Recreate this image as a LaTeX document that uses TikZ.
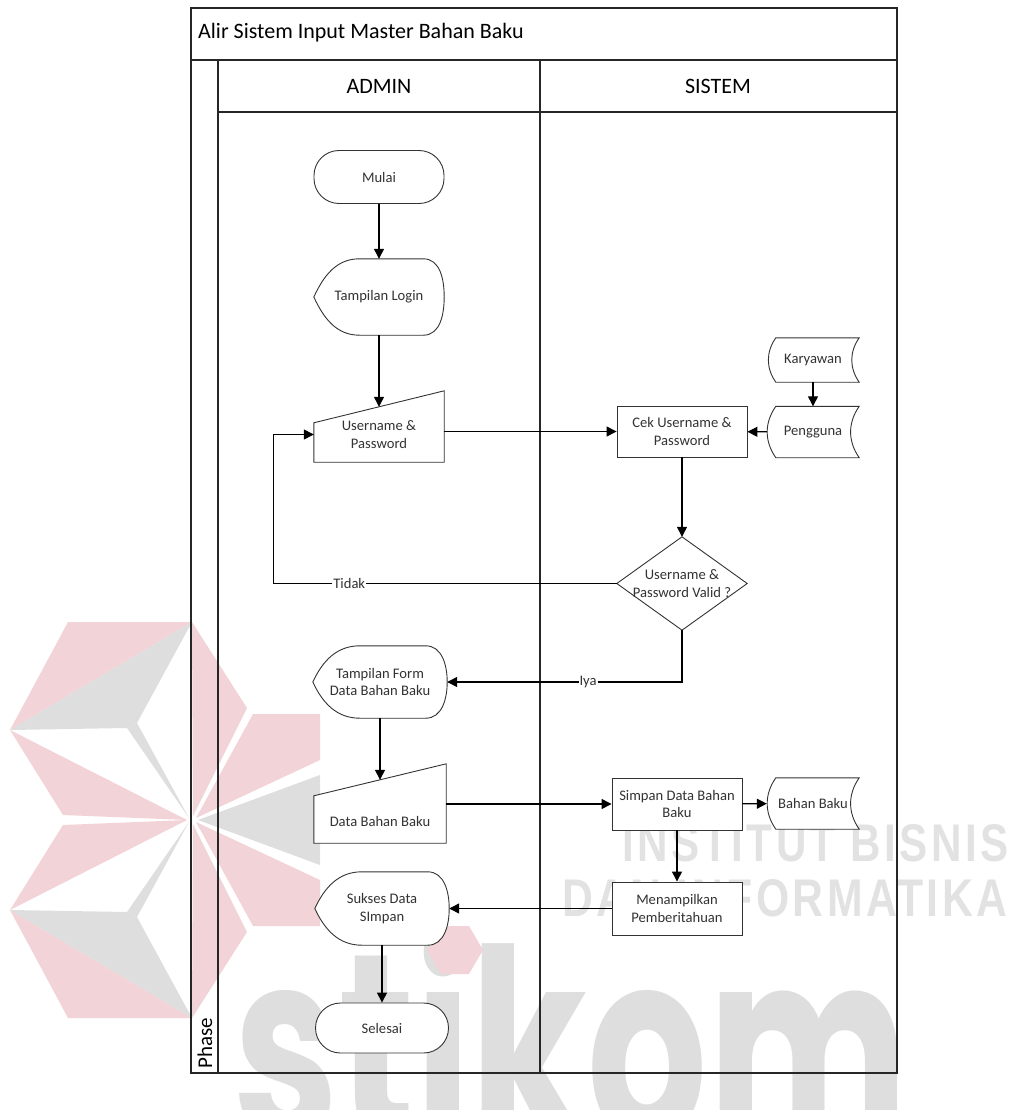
\documentclass[tikz,border=0pt]{standalone}
\usepackage{graphicx}
\usepackage{fontspec}
\setmainfont{Carlito}
\newfontfamily\wmfont{Poppins}
\newfontfamily\wmsans{Liberation Sans}[LetterSpace=8]
\usepackage{tikz}
\usetikzlibrary{calc}
\usetikzlibrary{arrows.meta}
\definecolor{wmpink}{HTML}{F2D3D8}
\definecolor{wmgray}{HTML}{DEDEDE}
\definecolor{wmtext}{HTML}{E2E2E2}
\definecolor{inkgray}{HTML}{333333}
\pgfdeclarelayer{watermark}
\pgfdeclarelayer{outline}
\pgfsetlayers{watermark,outline,main}
\newcommand{\nodefont}{\fontsize{14.6}{17.7}\selectfont}
\newcommand{\headfont}{\fontsize{22}{26}\selectfont}
\tikzset{
    shapeline/.style={draw=inkgray, line width=0.9pt, fill=white},
    frame/.style={draw=black!85, line width=1.3pt},
    flowbox/.style={text=inkgray, font=\nodefont, align=center, inner sep=2pt},
    process/.style={flowbox, shapeline, minimum width=130pt, minimum height=52pt},
    terminal/.style={flowbox, shapeline, rounded corners=25pt, minimum width=130pt, minimum height=51pt},
    display/.style={flowbox, minimum width=134pt, minimum height=74pt},
    manual/.style={flowbox, minimum width=130pt, minimum height=55pt},
    stored/.style={flowbox, minimum width=92pt, minimum height=51pt},
    decision/.style={flowbox, minimum width=130pt, minimum height=93pt},
    flow/.style={draw=black, line width=1.3pt, -{Triangle[length=10pt,width=10pt]}},
    edgelabel/.style={fill=white, text=inkgray, font=\nodefont, inner sep=1pt}
}
\newcommand{\displayshape}[1]{%
    \begin{pgfonlayer}{outline}
    \path[shapeline] (#1.west) to[out=65,in=180] ($(#1.north west)!0.35!(#1.north east)$) -- ($(#1.north west)!0.84!(#1.north east)$) to[out=0,in=90] (#1.east) to[out=-90,in=0] ($(#1.south west)!0.84!(#1.south east)$) -- ($(#1.south west)!0.35!(#1.south east)$) to[out=180,in=-65] (#1.west) -- cycle;
    \end{pgfonlayer}}
\newcommand{\manualshape}[1]{%
    \begin{pgfonlayer}{outline}
    \path[shapeline] (#1.south west) -- (#1.south east) -- ($(#1.north east)+(0,16)$) -- ($(#1.north west)+(0,-16)$) -- cycle;
    \end{pgfonlayer}}
\newcommand{\storedshape}[1]{%
    \begin{pgfonlayer}{outline}
    \path[shapeline] ($(#1.north west)+(9,0)$) -- (#1.north east) to[bend right=35] (#1.south east) -- ($(#1.south west)+(9,0)$) to[bend left=35] ($(#1.north west)+(9,0)$) -- cycle;
    \end{pgfonlayer}}
\newcommand{\decisionshape}[1]{%
    \begin{pgfonlayer}{outline}
    \path[shapeline] (#1.north) -- (#1.east) -- (#1.south) -- (#1.west) -- cycle;
    \end{pgfonlayer}}

\begin{document}
\begin{tikzpicture}[x=1pt,y=1pt]
    \useasboundingbox (0,0) rectangle (1010,-1110);
    \begin{pgfonlayer}{watermark}
    \fill[wmpink] (68,-622) -- (192,-622) -- (10,-730) -- cycle;
    \fill[wmgray] (192,-622) -- (10,-730) -- (127,-728) -- (137,-723) -- cycle;
    \fill[wmgray] (127,-728) -- (137,-723) -- (189,-818) -- cycle;
    \fill[wmpink] (10,-730) -- (63,-815) -- (187,-820) -- cycle;
    \fill[wmpink] (192,-622) -- (247,-708) -- (193,-816) -- cycle;
    \fill[wmpink] (68,-1018) -- (192,-1018) -- (10,-910) -- cycle;
    \fill[wmgray] (192,-1018) -- (10,-910) -- (127,-912) -- (137,-917) -- cycle;
    \fill[wmgray] (127,-912) -- (137,-917) -- (189,-822) -- cycle;
    \fill[wmpink] (10,-910) -- (63,-825) -- (187,-820) -- cycle;
    \fill[wmpink] (192,-1018) -- (247,-932) -- (193,-824) -- cycle;
    \fill[wmpink] (196,-818) -- (253,-714) -- (320,-714) -- (320,-760) -- cycle;
    \fill[wmgray] (198,-820) -- (320,-775) -- (320,-865) -- cycle;
    \fill[wmpink] (196,-822) -- (320,-880) -- (320,-926) -- (253,-926) -- cycle;
    \node[anchor=base west, inner sep=0pt, text=wmgray] (wmlogo) at (233,-1142) {\resizebox{674pt}{215pt}{\wmfont\bfseries stikom}};
    \fill[wmpink] (427,-950) -- (441,-926) -- (469,-926) -- (483,-950) -- (469,-974) -- (441,-974) -- cycle;
    \node[anchor=south west, inner sep=0pt, text=wmtext] (wmline1) at (622,-862) {\resizebox{386pt}{37pt}{\wmsans\bfseries INSTITUT BISNIS}};
    \node[anchor=south west, inner sep=0pt, text=wmtext] (wmline2) at (562,-917) {\resizebox{445pt}{37pt}{\wmsans\bfseries DAN INFORMATIKA}};
    \end{pgfonlayer}

    \begin{pgfonlayer}{outline}
    \draw[frame] (191,-8) rectangle (897,-1073);
    \draw[frame] (191,-60) -- (897,-60);
    \draw[frame] (218,-112) -- (897,-112);
    \draw[frame] (218,-60) -- (218,-1073);
    \draw[frame] (540,-60) -- (540,-1073);
    \end{pgfonlayer}
    \node[anchor=west, font=\headfont, inner sep=0pt] (pooltitle) at (198,-33) {Alir Sistem Input Master Bahan Baku};
    \node[font=\headfont] (laneadmin) at (379,-86) {ADMIN};
    \node[font=\headfont] (lanesistem) at (718,-86) {SISTEM};
    \node[font=\fontsize{21}{24}\selectfont, rotate=90] (phase) at (205,-1043) {Phase};

    \node[terminal, minimum height=53pt] (mulai) at (379,-177) {Mulai};
    \node[display, minimum width=130pt, minimum height=76pt] (login) at (379,-297) {Tampilan Login};
    \node[manual] (userin) at (379,-434.5) {Username \&\\Password};
    \node[process, minimum height=51pt] (cek) at (682,-431.5) {Cek Username \&\\Password};
    \node[stored, minimum height=44pt] (karyawan) at (813,-360) {Karyawan};
    \node[stored] (pengguna) at (813,-432) {Pengguna};
    \node[decision] (dec) at (682,-583.5) {Username \&\\Password Valid ?};
    \node[display, minimum height=72pt] (formtampil) at (380,-682) {Tampilan Form\\Data Bahan Baku};
    \node[manual, minimum width=132pt, minimum height=63pt, text height=30pt] (datain) at (380,-811.5) {Data Bahan Baku};
    \node[process] (simpan) at (677,-804) {Simpan Data Bahan\\Baku};
    \node[stored] (bahan) at (813,-803.5) {Bahan Baku};
    \node[process, minimum height=53pt] (tampilinfo) at (677,-908.5) {Menampilkan\\Pemberitahuan};
    \node[display, minimum height=73pt] (sukses) at (382,-908.5) {Sukses Data\\SImpan};
    \node[terminal, minimum width=133pt, minimum height=50pt] (selesai) at (382,-1028) {Selesai};
    \displayshape{login}
    \displayshape{formtampil}
    \displayshape{sukses}
    \manualshape{userin}
    \manualshape{datain}
    \storedshape{karyawan}
    \storedshape{pengguna}
    \storedshape{bahan}
    \decisionshape{dec}

    \coordinate (tidakbend) at ($(dec.west)+(-343,0)$);
    \draw[flow] (mulai) -- (login);
    \draw[flow] (login) -- (userin);
    \draw[flow] (userin.east |- cek.west) -- (cek.west);
    \draw[flow] (karyawan) -- (pengguna);
    \draw[flow] (pengguna) -- (cek);
    \draw[flow] (cek) -- (dec);
    \draw[flow] (dec.west) -- node[edgelabel, pos=0.78]{Tidak} (tidakbend) |- (userin.west);
    \draw[flow] (dec.south) |- node[edgelabel, pos=0.7]{Iya} (formtampil.east);
    \draw[flow] (formtampil) -- (datain);
    \draw[flow] (datain.east |- simpan.west) -- (simpan.west);
    \draw[flow] (simpan) -- (bahan);
    \draw[flow] (simpan) -- (tampilinfo);
    \draw[flow] (tampilinfo) -- (sukses);
    \draw[flow] (sukses) -- (selesai);
\end{tikzpicture}
\end{document}
